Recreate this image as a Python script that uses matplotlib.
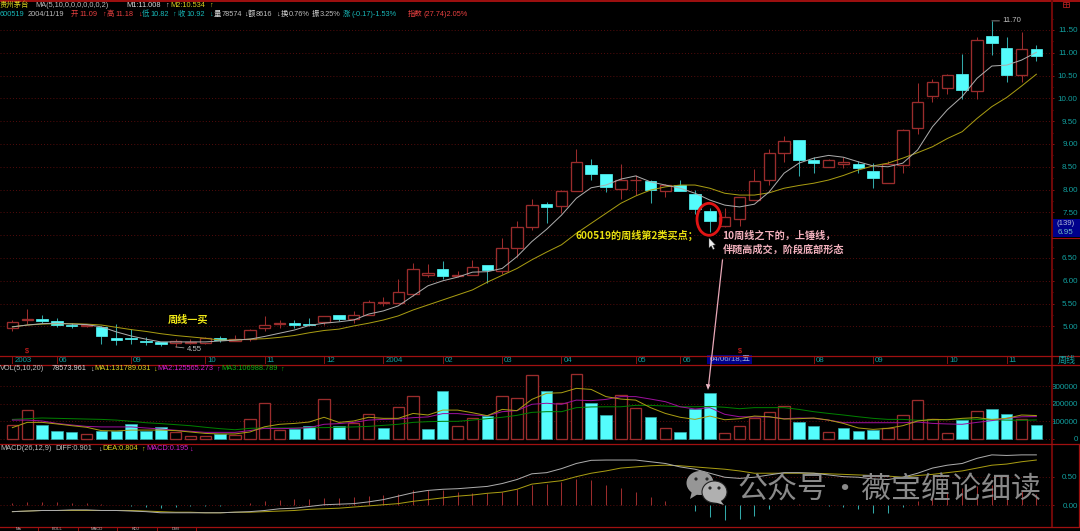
import numpy as np
import matplotlib
matplotlib.use("Agg")
import matplotlib.pyplot as plt
from matplotlib.patches import Rectangle, Ellipse, Polygon
from matplotlib.ticker import FixedLocator

W, H = 1080, 531
CJK = ['Noto Sans CJK SC', 'DejaVu Sans']
SMALL = ['Liberation Sans', 'Noto Sans CJK SC', 'DejaVu Sans']
plt.rcParams['font.family'] = SMALL

# ---------- data ----------
opens = [4.96,5.14,5.16,5.12,5.03,5.00,4.99,4.74,4.75,4.68,4.65,4.64,4.63,4.64,4.74,4.68,4.72,4.97,5.05,5.07,
         5.06,5.10,5.25,5.16,5.25,5.51,5.51,5.71,6.13,6.25,6.10,6.13,6.34,6.22,6.73,7.17,7.68,7.63,7.98,8.54,
         8.34,8.02,8.20,8.18,7.98,8.10,7.90,7.52,7.21,7.35,7.77,8.21,8.81,9.09,8.66,8.50,8.57,8.57,8.40,8.15,
         8.55,9.36,10.06,10.22,10.53,10.16,11.37,11.11,10.51,11.08]
closes = [5.09,5.17,5.12,5.03,5.00,5.04,4.79,4.71,4.72,4.66,4.61,4.67,4.66,4.74,4.70,4.72,4.92,5.03,5.07,5.04,
          5.03,5.23,5.16,5.26,5.54,5.53,5.75,6.25,6.18,6.10,6.12,6.30,6.24,6.71,7.17,7.66,7.62,7.97,8.60,8.34,
          8.06,8.21,8.22,7.99,8.09,7.97,7.57,7.31,7.41,7.83,8.19,8.81,9.06,8.66,8.58,8.66,8.60,8.47,8.25,8.56,
          9.30,9.93,10.35,10.51,10.18,11.27,11.22,10.51,11.08,10.92]
highs = [5.13,5.38,5.26,5.18,5.08,5.06,5.00,5.05,4.94,4.77,4.66,4.72,4.72,4.76,4.79,4.81,4.95,5.23,5.14,5.15,
         5.18,5.23,5.25,5.33,5.57,5.65,6.04,6.40,6.37,6.43,6.21,6.46,6.34,6.93,7.31,7.79,7.72,8.00,8.89,8.67,
         8.34,8.56,8.32,8.20,8.13,8.21,7.99,7.59,7.60,7.83,8.46,8.88,9.17,9.09,8.72,8.68,8.72,8.63,8.59,8.62,
         9.33,10.33,10.42,10.53,10.97,11.34,11.70,11.34,11.46,11.18]
lows = [4.90,5.05,5.07,4.99,4.97,4.98,4.61,4.59,4.61,4.59,4.58,4.55,4.62,4.61,4.66,4.67,4.67,4.90,4.97,4.96,
        5.00,5.02,5.12,5.08,5.25,5.45,5.51,5.67,6.09,6.05,6.08,6.12,5.96,6.15,6.52,7.11,7.27,7.48,7.98,8.21,
        7.94,7.79,7.88,7.70,7.83,7.97,7.47,7.08,7.17,7.20,7.77,8.09,8.61,8.30,8.37,8.50,8.48,8.36,8.03,8.15,
        8.36,9.21,9.93,10.09,9.98,9.98,10.95,10.37,10.37,10.82]
ma_fast = [4.99,5.03,5.06,5.07,5.05,5.04,4.99,4.88,4.79,4.72,4.66,4.66,4.66,4.66,4.68,4.70,4.72,4.78,4.85,4.92,
           5.02,5.07,5.10,5.14,5.27,5.34,5.45,5.67,5.89,6.00,6.08,6.19,6.20,6.27,6.53,6.86,7.13,7.44,7.81,8.04,
           8.10,8.23,8.30,8.17,8.10,8.03,7.92,7.77,7.66,7.62,7.68,7.95,8.36,8.58,8.69,8.75,8.71,8.61,8.52,8.50,
           8.58,8.87,9.38,9.75,10.04,10.44,10.71,10.73,10.84,11.01]
ma_slow = [4.99,5.03,5.05,5.06,5.06,5.05,5.03,4.98,4.93,4.89,4.84,4.80,4.77,4.74,4.70,4.70,4.72,4.73,4.76,4.80,
           4.86,4.91,4.94,5.01,5.07,5.14,5.23,5.36,5.47,5.58,5.69,5.80,5.97,6.12,6.27,6.46,6.63,6.79,7.04,7.26,
           7.48,7.70,7.86,7.99,8.06,8.10,8.10,8.03,7.92,7.88,7.88,7.93,8.03,8.09,8.14,8.21,8.31,8.43,8.52,8.58,
           8.69,8.81,8.94,9.12,9.27,9.56,9.82,10.02,10.27,10.53]
vol_k = [76,163,78,46,36,25,46,46,82,46,65,36,13,13,27,23,112,201,49,57,
         72,224,74,91,143,61,179,241,53,274,70,120,131,241,230,363,272,202,367,202,
         133,249,173,122,59,36,171,259,30,70,116,150,186,97,74,38,61,42,51,63,
         133,219,112,30,105,156,167,141,110,78]
vol_down_idx = [2,3,4,6,7,8,9,10,14,19,20,22,25,28,29,32,36,39,40,43,45,46,47,53,54,56,57,58,64,66,67,69]
vol_ma1_k = [63,93,93,84,74,65,46,44,49,49,49,46,38,30,27,27,38,68,82,87,
             95,122,93,101,122,116,116,144,135,163,163,148,131,167,160,224,259,262,287,281,
             240,226,220,177,144,122,110,129,108,114,129,125,112,114,118,106,87,61,53,59,
             74,101,110,108,116,120,110,116,135,132]
vol_ma2_k = [106,106,101,87,78,70,67,67,67,61,55,48,42,36,36,36,46,59,57,59,
             63,82,86,93,106,110,112,120,124,143,143,135,131,154,160,196,202,196,220,217,
             224,240,240,226,211,182,169,177,139,125,124,124,114,118,116,106,91,91,91,91,
             91,95,87,84,82,93,103,116,125,126]
vol_ma3_k = [110,114,118,116,114,112,110,106,99,91,86,80,74,65,57,51,59,61,61,61,
             63,63,65,67,70,76,82,93,97,99,99,106,114,122,133,150,154,154,177,181,
             182,182,190,190,186,182,182,184,179,171,177,177,177,167,154,144,135,125,116,110,
             110,105,106,110,112,110,108,106,105,107]
diff = [-.11,-.10,-.09,-.09,-.08,-.08,-.09,-.09,-.10,-.11,-.13,-.13,-.13,-.13,-.13,-.12,-.11,-.09,-.06,-.05,
        -.02,.01,.02,.03,.06,.10,.16,.22,.26,.28,.29,.31,.33,.38,.45,.55,.57,.64,.73,.785,
        .79,.79,.79,.76,.73,.67,.63,.56,.49,.47,.49,.53,.57,.57,.56,.53,.50,.49,.46,.45,
        .49,.56,.65,.70,.73,.82,.88,.87,.88,.88]
dea = [-.11,-.10,-.09,-.09,-.09,-.09,-.09,-.09,-.09,-.10,-.11,-.12,-.12,-.13,-.13,-.12,-.12,-.11,-.10,-.09,
       -.07,-.06,-.05,-.03,-.01,.01,.03,.07,.10,.13,.16,.18,.21,.23,.28,.37,.40,.43,.50,.56,
       .60,.65,.67,.69,.70,.69,.67,.65,.63,.60,.56,.56,.56,.56,.56,.55,.54,.53,.52,.51,
       .49,.52,.54,.57,.60,.65,.70,.72,.76,.79]
macd = [.035,.06,.065,.05,.04,.04,.02,.01,-.02,-.03,-.05,-.03,-.02,-.005,-.005,.002,.035,.07,.09,.11,
        .11,.13,.13,.14,.16,.18,.19,.27,.27,.26,.24,.22,.21,.23,.28,.36,.37,.41,.46,.44,
        .35,.30,.23,.145,.076,.002,-.10,-.21,-.26,-.24,-.18,-.06,.01,.02,.002,-.005,-.035,-.07,-.13,-.13,
        -.035,.075,.18,.24,.30,.33,.35,.30,.25,.195]
date_idx = [0,3,8,13,17,21,25,29,33,37,42,45,54,58,63,67]
date_labels = ['2003','06','09','10','11','12','2004','02','03','04','05','06','08','09','10','11']
price_ticks = [5.0,5.5,6.0,6.5,7.0,7.5,8.0,8.5,9.0,9.5,10.0,10.5,11.0,11.5]
price_tick_labels = ['5.00','5.50','6.00','6.50','','7.50','8.00','8.50','9.00','9.50','10.00','10.50','11.00','11.50']
vol_ticks = [0,100000,200000,300000]
macd_ticks = [0.0,0.5]

n = len(closes)
x = np.arange(n)

# ---------- style ----------
BG = '#000000'
RED = '#9a2c2c'
CYAN = '#54fcfc'
WICK = '#32a8a8'
LINE = '#8c1010'
GRID = '#560c0c'
TEAL = '#12a0a0'
OLIVE = '#a89c12'
GRAY = '#bdbdbd'
WHITE_LINE = '#acacac'
FS = 5.3
BAR_W = 0.77
LW1 = 0.75
LWM = 0.72

fig = plt.figure(figsize=(W/100, H/100), dpi=100, facecolor=BG)

X0, X1 = 0, 1051
XLIM = (-12.4/14.84, (X1-12.4)/14.84)


def panel(y0, y1):
    ax = fig.add_axes([X0/W, 1-y1/H, (X1-X0)/W, (y1-y0)/H], facecolor=BG)
    ax.set_xlim(*XLIM)
    ax.set_xticks([])
    for s in ax.spines.values():
        s.set_visible(False)
    ax.yaxis.tick_right()
    ax.tick_params(axis='y', colors=LINE, labelcolor=TEAL, labelsize=FS+0.5, length=2.2,
                   width=0.7, pad=17.0)
    ax.grid(axis='y', color=GRID, lw=0.7, ls=(0, (1, 2.2)))
    ax.set_axisbelow(True)
    return ax


# ---------- main price panel ----------
ax = panel(3, 355)
ax.set_ylim(11.5-(355-30)/45.6, 11.5+(30-3)/45.6)
ax.set_yticks(price_ticks)
ax.set_yticklabels(price_tick_labels)
ax.yaxis.set_minor_locator(FixedLocator([t+0.25 for t in price_ticks]))
ax.tick_params(axis='y', which='minor', colors=LINE, length=1.4, width=0.6)
for lab in ax.get_yticklabels():
    lab.set_ha('right')

for i in range(n):
    o, c, h, l = opens[i], closes[i], highs[i], lows[i]
    up = c >= o
    top, bot = max(o, c), min(o, c)
    col = RED if up else WICK
    ax.plot([i, i], [top, h], color=col, lw=LW1, solid_capstyle='butt', zorder=2)
    ax.plot([i, i], [l, bot], color=col, lw=LW1, solid_capstyle='butt', zorder=2)
    if up:
        ax.add_patch(Rectangle((i-BAR_W/2, bot), BAR_W, max(top-bot, 0.005), fc=BG, ec=RED, lw=0.95, zorder=3))
    else:
        ax.add_patch(Rectangle((i-BAR_W/2, bot), BAR_W, top-bot, fc=CYAN, ec=CYAN, lw=0.5, zorder=3))
ax.plot(x, ma_slow, color=OLIVE, lw=LWM, zorder=4)
ax.plot(x, ma_fast, color=WHITE_LINE, lw=LWM, zorder=5)

# low / high labels taken from the data
ilow, ihigh = int(np.argmin(lows)), int(np.argmax(highs))
ax.annotate(f'{lows[ilow]:.2f}', xy=(ilow, lows[ilow]), xytext=(8.0, -1.5), textcoords='offset points',
            color=GRAY, fontsize=FS+0.3, va='center', ha='left',
            arrowprops=dict(arrowstyle='-', color='#999999', lw=0.6, shrinkA=0, shrinkB=0))
ax.annotate(f'{highs[ihigh]:.2f}', xy=(ihigh, highs[ihigh]), xytext=(7.5, 0), textcoords='offset points',
            color=GRAY, fontsize=FS+0.3, va='center', ha='left',
            arrowprops=dict(arrowstyle='-', color='#999999', lw=0.6, shrinkA=0, shrinkB=0))
# red markers just above the date strip
for i in (1, 49):
    ax.annotate('\\$', xy=(i, ax.get_ylim()[0]), xytext=(0, 3), textcoords='offset points',
                color='#e02020', fontsize=FS, ha='center', va='center')

# ---------- date strip ----------
dax = fig.add_axes([X0/W, 1-364.5/H, (X1-X0)/W, 9/H], facecolor=BG)
dax.set_xlim(*XLIM)
dax.set_ylim(0, 1)
dax.set_xticks([])
dax.set_yticks([])
for s in dax.spines.values():
    s.set_visible(False)
for i, lab in zip(date_idx, date_labels):
    dax.plot([i, i], [0, 1], color=LINE, lw=0.7)
    dax.annotate(lab, xy=(i, 0.5), xytext=(1.5, 0), textcoords='offset points', color=TEAL,
                 fontsize=FS+0.4, va='center', ha='left')
dax.annotate('04/06/18,五', xy=(47, 0.5), xytext=(-0.3, 0), textcoords='offset points', color='#9fb0d0',
             fontsize=FS+0.4, va='center', ha='left', zorder=6,
             bbox=dict(boxstyle='square,pad=0.25', fc='#00008c', ec='none'))

# ---------- volume panel ----------
vax = panel(364, 444)
vax.set_ylim(-30400, 426000)
vax.set_yticks(vol_ticks)
vax.set_yticklabels([str(t) for t in vol_ticks])
for lab in vax.get_yticklabels():
    lab.set_ha('right')
vols = np.array(vol_k)*1000
for i in range(n):
    if i in vol_down_idx:
        vax.bar(i, vols[i], width=BAR_W, color=CYAN, edgecolor=WICK, lw=0.5, zorder=3)
    else:
        vax.bar(i, vols[i], width=BAR_W, color=BG, edgecolor=RED, lw=0.95, zorder=3)
vax.plot(x, np.array(vol_ma3_k)*1000, color='#008000', lw=LWM, zorder=4)
vax.plot(x, np.array(vol_ma2_k)*1000, color='#9c109c', lw=LWM, zorder=5)
vax.plot(x, np.array(vol_ma1_k)*1000, color=OLIVE, lw=LWM, zorder=6)

# ---------- MACD panel ----------
max_ = panel(444, 526)
max_.set_ylim(-(526-505.33)/57.33, (505.33-444)/57.33)
max_.set_yticks(macd_ticks)
max_.set_yticklabels([f'{t:.2f}' for t in macd_ticks])
for lab in max_.get_yticklabels():
    lab.set_ha('right')
for i in range(n):
    max_.plot([i, i], [0, macd[i]], color=RED if macd[i] >= 0 else WICK, lw=0.75,
              solid_capstyle='butt', zorder=3)
max_.plot(x, dea, color=OLIVE, lw=LWM, zorder=4)
max_.plot(x, diff, color=WHITE_LINE, lw=LWM, zorder=5)

# ---------- overlay in pixel coordinates: frame, headers, notes, watermark ----------
ov = fig.add_axes([0, 0, 1, 1], facecolor='none', zorder=20)
ov.set_xlim(0, W)
ov.set_ylim(H, 0)
ov.axis('off')

FR = '#a01010'
ov.plot([0, W], [1, 1], color=FR, lw=1.4)
ov.plot([X1+0.5, X1+0.5], [1, 526], color='#6e0808', lw=1.5)
ov.plot([W-1, W-1], [444, 526], color=FR, lw=0.9)
for y, x1 in ((355.5, W), (364.5, W), (444, W), (526.5, W)):
    ov.plot([0, x1], [y, y], color=FR, lw=0.9)
ov.text(1058, 360, '周线', color=TEAL, fontsize=FS+1.2, family=CJK, va='center', ha='left')
ov.add_patch(Rectangle((1052.5, 219), 27.5, 18, fc='#00008c', ec='none'))
ov.plot([1052, W], [237.5, 237.5], color=FR, lw=0.8)
ov.text(1066, 223.5, '(139)', color='#b0b8d8', fontsize=FS+0.3, ha='center', va='center')
ov.text(1066, 233, '6.95', color='#70c0c0', fontsize=FS+0.5, ha='center', va='center')
ov.add_patch(Rectangle((1063, 1.5), 6, 5, fc='none', ec='#b02020', lw=0.6))
ov.plot([1063, 1069], [4, 4], color='#b02020', lw=0.5)
ov.plot([1066, 1066], [1.5, 6.5], color='#b02020', lw=0.5)


def row(y, items):
    for xp, txt, col in items:
        ov.text(xp, y, txt, color=col, fontsize=FS, va='center', ha='left', family=SMALL)


RT = '#e84040'
YE = '#d8d020'
WT = '#d8d8d8'
MG = '#d020d0'
GR = '#10b010'
TL = '#18b8b8'
row(5.5, [(0, '贵州茅台', YE), (35.5, 'MA(5,10,0,0,0,0,0,0,2)', GRAY), (126.5, 'M1:11.008', WT), (165.5, '↑', WT),
          (170.7, 'M2:10.534', YE), (209, '↑', YE)])
row(14.5, [(0, '600519', TL), (27.6, '2004/11/19', GRAY), (70.7, '开', RT), (79, '11.09', RT), (102, '↑', RT),
           (107, '高', RT), (115, '11.18', RT), (138, '↓', RT), (142, '低', TL), (150, '10.82', TL), (172, '↑', TL),
           (178, '收', TL), (186, '10.92', TL), (208.6, '↓', TL), (214, '量', WT), (222, '78574', GRAY), (244, '↓', WT),
           (248, '额', WT), (256, '8616', GRAY), (276, '↓', WT), (281, '换', WT), (289, '0.76%', GRAY), (312, '振', WT),
           (320, '3.25%', GRAY), (343, '涨', TL), (351, '(-0.17)-1.53%', TL), (407.6, '指数', RT), (423, '(27.74)2.05%', RT)])
row(369, [(0, 'VOL(5,10,20)', GRAY), (51.6, '78573.961', WT), (90, '↓', WT), (94.7, 'MA1:131789.031', YE), (153, '↓', YE),
          (157.7, 'MA2:125565.273', MG), (216, '↑', MG), (221, 'MA3:106988.789', GR), (280, '↑', GR)])
row(449, [(0, 'MACD(26,12,9)', GRAY), (55, 'DIFF:0.901', GRAY), (98, '↓', WT), (102.6, 'DEA:0.804', YE), (141.5, '↑', YE),
          (146, 'MACD:0.195', MG), (189, '↓', MG)])

# tabs in the thin strip at the bottom edge
for xt, t in ((18, 'Ma'), (57, 'BOLL'), (96.5, 'MACD'), (136, 'KDJ'), (176, 'DMI')):
    ov.text(xt, 529.2, t, color=GRAY, fontsize=3.0, ha='center', va='center')
for xs in (38, 77.5, 117, 157, 196):
    ov.plot([xs, xs], [527, H], color=FR, lw=0.7)

# notes
NOTE = CJK
ov.text(168, 320, '周线一买', color='#f0e818', fontsize=7.3, family=NOTE, weight='bold', va='center')
ov.text(575, 235, '600519的周线第2类买点；', color='#e8e010', fontsize=7.3, family=NOTE, weight='bold', va='center')
ov.text(722.5, 235.5, '10周线之下的，上锤线，', color='#f0b0bc', fontsize=7.3, family=NOTE, weight='bold', va='center')
ov.text(722.5, 249.3, '伴随高成交，阶段底部形态', color='#f0b0bc', fontsize=7.3, family=NOTE, weight='bold', va='center')
ov.add_patch(Ellipse((709, 219.3), 24, 32, fc='none', ec='#e01414', lw=2.0))
ov.plot([722.5, 708.5], [260, 386], color='#e8a8b8', lw=0.9)
ov.add_patch(Polygon([[708, 390], [705.8, 384], [710.4, 384.5]], fc='#f0c0cc', ec='none'))
ov.add_patch(Polygon([[709, 238], [709, 248], [711.2, 245.8], [713, 249.5], [714.6, 248.8], [712.8, 245.2], [715.5, 245]],
                     fc='#f0f0f0', ec='#404040', lw=0.3))

# watermark
WM = '#8a8a8a'
ov.add_patch(Ellipse((700, 483), 27, 24, fc='#969696', ec='none'))
ov.add_patch(Polygon([[692, 491], [690, 499], [698, 494]], fc='#969696', ec='none'))
ov.add_patch(Ellipse((714.5, 492), 25, 22, fc='#b0b0b0', ec='#222222', lw=0.8))
ov.add_patch(Polygon([[720, 500], [724, 505], [714, 502]], fc='#b0b0b0', ec='none'))
for cx, cy in ((696, 479), (707, 479), (710, 488), (719, 488)):
    ov.add_patch(Ellipse((cx, cy), 3.2, 3.2, fc='#2a2a2a', ec='none'))
ov.text(737, 489, '公众号', color=WM, fontsize=21.6, family=CJK, va='center', ha='left')
ov.text(844, 489, '·', color=WM, fontsize=21.6, family=CJK, va='center', ha='center')
ov.text(861, 489, '薇宝缠论细读', color=WM, fontsize=21.6, family=CJK, va='center', ha='left')

fig.savefig('out.png', dpi=100, facecolor=BG)
